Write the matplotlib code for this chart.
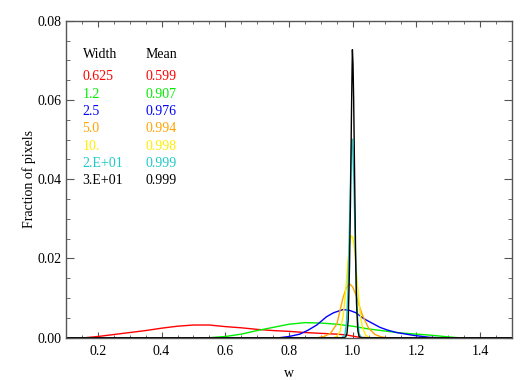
import matplotlib
matplotlib.use("Agg")
import matplotlib.pyplot as plt
from matplotlib.ticker import MultipleLocator

# ---- data ----
red_x = [0.10, 0.16, 0.20, 0.25, 0.30, 0.35, 0.40, 0.45, 0.50, 0.55, 0.60, 0.65, 0.70,
         0.75, 0.80, 0.85, 0.90, 0.95, 0.98, 1.00, 1.02, 1.05, 1.50]
red_y = [0.0, 0.0, 0.0003, 0.0008, 0.0013, 0.0018, 0.0024, 0.0029, 0.0032, 0.0032,
         0.0028, 0.0025, 0.0021, 0.0018, 0.0016, 0.0013, 0.0011, 0.0009, 0.0007, 0.0004,
         0.0001, 0.0, 0.0]

green_x = [0.10, 0.55, 0.60, 0.65, 0.70, 0.75, 0.80, 0.85, 0.90, 0.95, 1.00, 1.05,
           1.10, 1.15, 1.20, 1.25, 1.30, 1.33, 1.50]
green_y = [0.0, 0.0, 0.0003, 0.0009, 0.0018, 0.0026, 0.0034, 0.0038, 0.0037, 0.0034,
           0.0029, 0.0022, 0.0017, 0.0012, 0.0009, 0.0006, 0.0002, 0.0, 0.0]

blue_x = [0.10, 0.77, 0.80, 0.834, 0.86, 0.887, 0.918, 0.94, 0.97, 0.99, 1.01, 1.033,
          1.06, 1.086, 1.11, 1.138, 1.19, 1.24, 1.27, 1.50]
blue_y = [0.0, 0.0, 0.0003, 0.0009, 0.0019, 0.0032, 0.0053, 0.0063, 0.0071, 0.0069,
          0.0063, 0.0049, 0.0037, 0.0026, 0.0019, 0.0013, 0.0006, 0.0001, 0.0, 0.0]

orange_x = [0.10, 0.89, 0.91, 0.93, 0.95, 0.96, 0.97, 0.98, 0.99, 1.00, 1.01, 1.02,
            1.03, 1.05, 1.07, 1.09, 1.11, 1.50]
orange_y = [0.0, 0.0, 0.0003, 0.0011, 0.0034, 0.0068, 0.0102, 0.0126, 0.0136, 0.0128,
            0.0108, 0.0082, 0.0058, 0.0024, 0.0008, 0.0002, 0.0, 0.0]

yellow_x = [0.10, 0.94, 0.95, 0.96, 0.97, 0.975, 0.98, 0.985, 0.99, 0.995, 1.00, 1.005,
            1.01, 1.015, 1.02, 1.025, 1.03, 1.04, 1.05, 1.06, 1.50]
yellow_y = [0.0, 0.0, 0.0003, 0.0015, 0.0055, 0.0092, 0.0140, 0.0192, 0.0236, 0.0257,
            0.0254, 0.0227, 0.0182, 0.0133, 0.0088, 0.0052, 0.0028, 0.0007, 0.0001, 0.0, 0.0]

cyan_x = [0.10, 0.965, 0.975, 0.98, 0.985, 0.99, 0.994, 0.997, 1.000, 1.004, 1.008,
          1.012, 1.016, 1.02, 1.025, 1.03, 1.50]
cyan_y = [0.0, 0.0, 0.0006, 0.0032, 0.0118, 0.0290, 0.0435, 0.0502, 0.0478, 0.0380,
          0.0235, 0.0110, 0.0040, 0.0011, 0.0002, 0.0, 0.0]

black_x = [0.10, 0.972, 0.978, 0.982, 0.986, 0.99, 0.993, 0.996, 0.998, 0.999, 1.001,
           1.003, 1.006, 1.009, 1.012, 1.016, 1.020, 1.026, 1.50]
black_y = [0.0, 0.0, 0.0002, 0.0011, 0.0046, 0.0180, 0.0345, 0.0560, 0.0680, 0.0727,
           0.0690, 0.0600, 0.0405, 0.0215, 0.0085, 0.0018, 0.0003, 0.0, 0.0]

widths = ["0.625", "1.2", "2.5", "5.0", "10.", "2.E+01", "3.E+01"]
means = ["0.599", "0.907", "0.976", "0.994", "0.998", "0.999", "0.999"]
colors = ["#ff0000", "#00ee00", "#0000ff", "#ffa500", "#ffee00", "#20c8c8", "#000000"]

xs = [red_x, green_x, blue_x, orange_x, yellow_x, cyan_x, black_x]
ys = [red_y, green_y, blue_y, orange_y, yellow_y, cyan_y, black_y]

plt.rcParams['font.family'] = ['Liberation Serif', 'DejaVu Serif']
fig = plt.figure(figsize=(5.32, 3.80), dpi=100)
L, R, T, B = 66, 512, 20.7, 337.7
ax = fig.add_axes([L/532, 1-B/380, (R-L)/532, (B-T)/380])

for x, y, c in zip(xs, ys, colors):
    ax.plot(x, y, color=c, lw=1.0)

ax.set_xlim(0.1, 1.5)
ax.set_ylim(0.0, 0.08)
ax.xaxis.set_major_locator(MultipleLocator(0.2))
ax.xaxis.set_minor_locator(MultipleLocator(0.05))
ax.yaxis.set_major_locator(MultipleLocator(0.02))
ax.yaxis.set_minor_locator(MultipleLocator(0.005))
ax.xaxis.set_major_formatter(plt.FuncFormatter(lambda v, p: f"{v:.1f}"))
ax.yaxis.set_major_formatter(plt.FuncFormatter(lambda v, p: f"{v:.2f}"))
ax.tick_params(axis='x', which='major', direction='in', length=4.5, top=True, labelsize=10, color='#555555', pad=5)
ax.tick_params(axis='x', which='minor', direction='in', length=2.3, top=True, color='#555555')
ax.tick_params(axis='y', which='major', direction='in', length=6.0, right=True, labelsize=10, color='#555555', pad=3)
ax.tick_params(axis='y', which='minor', direction='in', length=3.0, right=True, color='#555555')
for s in ax.spines.values():
    s.set_color('#555555')
    s.set_linewidth(1.0)

ax.set_xlabel("w", fontsize=10, labelpad=7)
ax.set_ylabel("Fraction of pixels", fontsize=10, labelpad=1)

H = B - T
x1 = (82.5 - L)/(R - L)
x2 = (146 - L)/(R - L)
ax.text(x1, (B - 55)/H, "Width", transform=ax.transAxes, fontsize=10, va='center', color='black')
ax.text(x2, (B - 55)/H, "Mean", transform=ax.transAxes, fontsize=10, va='center', color='black')
for i, (w, m, c) in enumerate(zip(widths, means, colors)):
    yy = (B - (76.7 + 17.33*i))/H
    ax.text(x1, yy, w, transform=ax.transAxes, fontsize=10, va='center', color=c)
    ax.text(x2, yy, m, transform=ax.transAxes, fontsize=10, va='center', color=c)

fig.savefig("out.png", dpi=100)
